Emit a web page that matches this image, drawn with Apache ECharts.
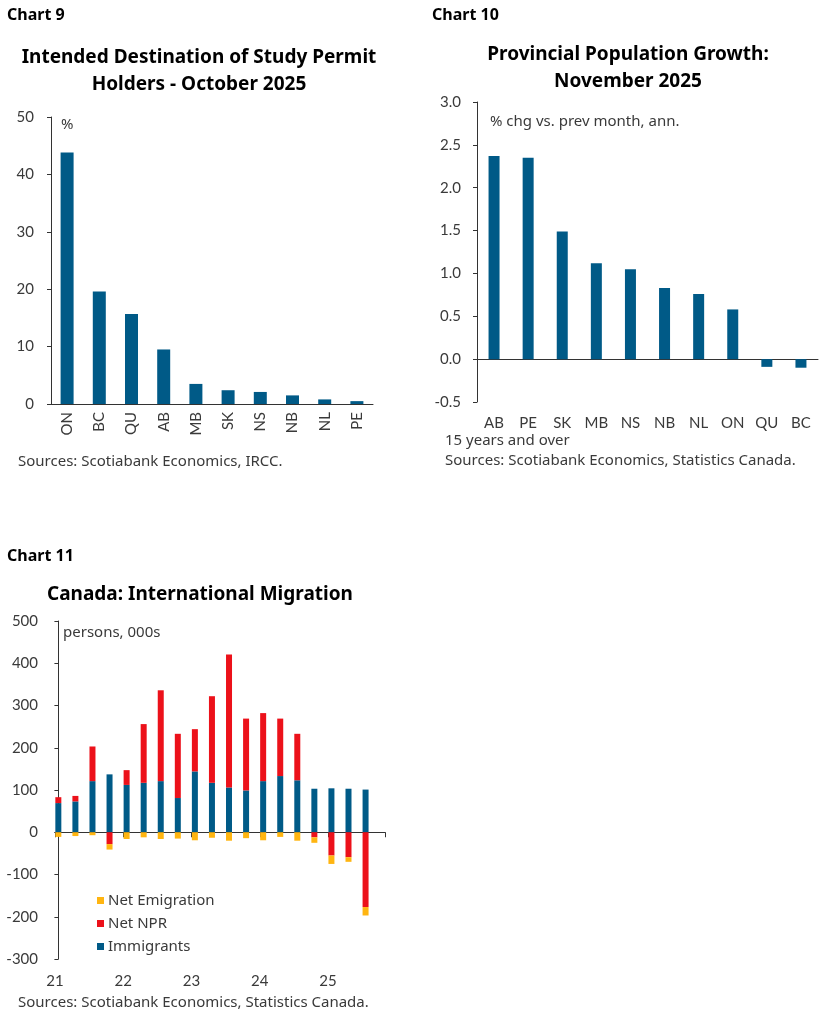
<!DOCTYPE html>
<html>
<head>
<meta charset="utf-8">
<script src="https://cdn.jsdelivr.net/npm/echarts@6/dist/echarts.min.js"></script>
<style>
  html, body { margin: 0; padding: 0; background: #fff; }
  #chart { width: 828px; height: 1023px; }
</style>
</head>
<body>
<div id="chart"></div>
<script>
// Chart 9: study permit holders by province (%)
var studyProv = ['ON', 'BC', 'QU', 'AB', 'MB', 'SK', 'NS', 'NB', 'NL', 'PE'];
var studyShare = [43.8, 19.6, 15.7, 9.5, 3.5, 2.4, 2.1, 1.5, 0.8, 0.5];

// Chart 10: provincial population growth, % chg m/m ann.
var popProv = ['AB', 'PE', 'SK', 'MB', 'NS', 'NB', 'NL', 'ON', 'QU', 'BC'];
var popGrowth = [2.37, 2.35, 1.49, 1.12, 1.05, 0.83, 0.76, 0.58, -0.09, -0.10];

// Chart 11: international migration, quarterly, 000s
var quarters = ['21Q1', '21Q2', '21Q3', '21Q4', '22Q1', '22Q2', '22Q3', '22Q4',
  '23Q1', '23Q2', '23Q3', '23Q4', '24Q1', '24Q2', '24Q3', '24Q4', '25Q1', '25Q2', '25Q3'];
var immigrants = [69, 73, 121, 137, 112, 117, 121, 81, 144, 117, 106, 99, 121, 133, 123, 103, 104, 103, 101];
var netNPR = [14, 13, 82, -28, 35, 139, 215, 152, 100, 205, 315, 170, 161, 136, 110, -12, -55, -59, -177];
var netEmigration = [-11, -9, -7, -13, -16, -12, -16, -15, -19, -13, -20, -14, -19, -11, -20, -13, -20, -11, -20];
var yearLabels = ['21', '22', '23', '24', '25'];

var BLUE = '#005a87';
var RED = '#ec111a';
var GOLD = '#ffb511';
var INK = '#3a3a3a';
var FONT = 'Lato';
var TEXT_FONT = 'Noto Sans';

var div = document.getElementById('chart');
var myChart = echarts.init(div);

function txt(x, y, text, size, bold, align) {
  return {
    type: 'text', x: x, y: y,
    style: {
      text: text, fontFamily: TEXT_FONT, fontSize: size,
      fontWeight: bold ? 'bold' : 'normal',
      fill: bold ? '#000' : INK,
      align: align || 'left', verticalAlign: 'middle', lineHeight: 27
    }
  };
}

var axisLabelStyle = { color: INK, fontFamily: FONT, fontSize: 15 };
var axisLineStyle = { lineStyle: { color: '#333', width: 1 } };

option = {
  animation: false,
  backgroundColor: '#fff',
  graphic: [
    txt(7, 15, 'Chart 9', 16, true),
    txt(432, 15, 'Chart 10', 16, true),
    txt(7, 556, 'Chart 11', 16, true),
    txt(199, 71, 'Intended Destination of Study Permit\nHolders - October 2025', 19, true, 'center'),
    txt(628, 68, 'Provincial Population Growth:\nNovember 2025', 19, true, 'center'),
    txt(200, 595, 'Canada: International Migration', 19, true, 'center'),
    txt(61, 125, '%', 15),
    txt(490, 122, '% chg vs. prev month, ann.', 15),
    txt(63, 633, 'persons, 000s', 15),
    txt(18, 462, 'Sources: Scotiabank Economics, IRCC.', 15),
    txt(445, 441, '15 years and over', 15),
    txt(445, 461, 'Sources: Scotiabank Economics, Statistics Canada.', 15),
    txt(18, 1003, 'Sources: Scotiabank Economics, Statistics Canada.', 15)
  ],
  legend: {
    data: ['Net Emigration', 'Net NPR', 'Immigrants'],
    orient: 'vertical',
    left: 92, top: 888,
    itemWidth: 7, itemHeight: 7, itemGap: 8,
    icon: 'rect',
    textStyle: { color: INK, fontFamily: TEXT_FONT, fontSize: 15, padding: [0, 0, 0, -1] }
  },
  grid: [
    { left: 51, top: 117, width: 322, height: 287 },
    { left: 477, top: 102, width: 341, height: 300 },
    // chart 11 frame: axes only
    { left: 55, top: 621, width: 330, height: 338 },
    // chart 11 bars: one band per quarter, same vertical scale
    { left: 49.8, top: 621, width: 324.3, height: 338 }
  ],
  xAxis: [
    {
      gridIndex: 0, type: 'category', data: studyProv,
      axisLine: axisLineStyle,
      axisTick: { length: 5, lineStyle: { color: '#333' } },
      axisLabel: Object.assign({ rotate: 90, margin: 8 }, axisLabelStyle)
    },
    {
      // zero line with ticks
      gridIndex: 1, type: 'category', data: popProv, position: 'bottom',
      axisLine: { onZero: true, lineStyle: { color: '#333', width: 1 } },
      axisTick: { length: 5, lineStyle: { color: '#333' } },
      axisLabel: { show: false }
    },
    {
      // province labels along the bottom
      gridIndex: 1, type: 'category', data: popProv, position: 'bottom',
      axisLine: { show: false, onZero: false },
      axisTick: { show: false },
      axisLabel: Object.assign({ margin: 14 }, axisLabelStyle)
    },
    {
      // zero line, year ticks
      gridIndex: 2, type: 'value', min: -0.2, max: 19.14, interval: 4,
      position: 'bottom',
      axisLine: { onZero: true, lineStyle: { color: '#333', width: 1 } },
      axisTick: { length: 5, lineStyle: { color: '#333' } },
      axisLabel: { show: false },
      splitLine: { show: false }
    },
    {
      // year labels along the bottom
      gridIndex: 2, type: 'value', min: 0, max: 19.34, interval: 4,
      position: 'bottom',
      axisLine: { show: false, onZero: false },
      axisTick: { show: false },
      splitLine: { show: false },
      axisLabel: Object.assign({
        margin: 15,
        formatter: function (v) {
          return v % 4 === 0 ? (yearLabels[v / 4] || '') : '';
        }
      }, axisLabelStyle)
    },
    {
      gridIndex: 3, type: 'category', data: quarters, show: false
    }
  ],
  yAxis: [
    {
      gridIndex: 0, type: 'value', min: 0, max: 50, interval: 10,
      axisLine: { show: true, lineStyle: { color: '#333' } },
      axisTick: { show: true, length: 4, lineStyle: { color: '#333' } },
      axisLabel: Object.assign({ margin: 17 }, axisLabelStyle),
      splitLine: { show: false }
    },
    {
      gridIndex: 1, type: 'value', min: -0.5, max: 3.0, interval: 0.5,
      axisLine: { show: true, lineStyle: { color: '#333' } },
      axisTick: { show: true, length: 4, lineStyle: { color: '#333' } },
      axisLabel: Object.assign({
        margin: 16,
        formatter: function (v) { return v.toFixed(1); }
      }, axisLabelStyle),
      splitLine: { show: false }
    },
    {
      gridIndex: 2, type: 'value', min: -300, max: 500, interval: 100,
      axisLine: { show: true, lineStyle: { color: '#333' } },
      axisTick: { show: true, length: 4, lineStyle: { color: '#333' } },
      axisLabel: Object.assign({ margin: 17 }, axisLabelStyle),
      splitLine: { show: false }
    },
    {
      gridIndex: 3, type: 'value', min: -300, max: 500, interval: 100, show: false,
      splitLine: { show: false }
    }
  ],
  series: [
    {
      type: 'bar', xAxisIndex: 0, yAxisIndex: 0,
      data: studyShare, barWidth: 13,
      itemStyle: { color: BLUE }
    },
    {
      type: 'bar', xAxisIndex: 1, yAxisIndex: 1,
      data: popGrowth, barWidth: 11,
      itemStyle: { color: BLUE }
    },
    {
      name: 'Immigrants', type: 'bar', xAxisIndex: 5, yAxisIndex: 3,
      stack: 'mig', barWidth: 6, data: immigrants,
      itemStyle: { color: BLUE }
    },
    {
      name: 'Net NPR', type: 'bar', xAxisIndex: 5, yAxisIndex: 3,
      stack: 'mig', barWidth: 6, data: netNPR,
      itemStyle: { color: RED }
    },
    {
      name: 'Net Emigration', type: 'bar', xAxisIndex: 5, yAxisIndex: 3,
      stack: 'mig', barWidth: 6, data: netEmigration,
      itemStyle: { color: GOLD }
    }
  ]
};

myChart.setOption(option);
</script>
</body>
</html>
